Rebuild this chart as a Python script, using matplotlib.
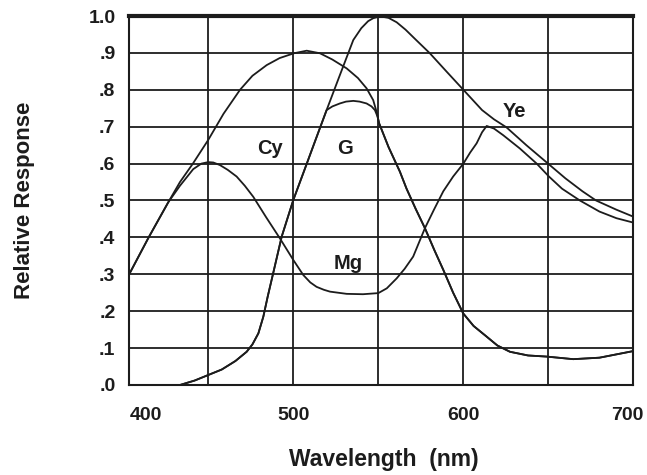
import numpy as np
import matplotlib.pyplot as plt
from matplotlib.transforms import ScaledTranslation

# %% data (wavelength in nm, relative response)
cy_nm = [404, 415, 426.5, 433.4, 441, 450, 459, 468.7, 476, 484.4, 492, 500.4, 507.9, 515.7,
         523, 531.4, 538, 543.1, 547, 549, 550.5, 556, 562.7, 566.6, 572, 577.4, 583, 588.2,
         594, 599.9, 606, 613.7, 620, 627.4, 638, 648.9, 664.6, 680, 700]
cy_resp = [0.304, 0.40, 0.495, 0.55, 0.60, 0.664, 0.735, 0.80, 0.838, 0.867, 0.886, 0.899,
           0.906, 0.899, 0.882, 0.858, 0.832, 0.804, 0.772, 0.74, 0.709, 0.645, 0.578, 0.532,
           0.477, 0.425, 0.365, 0.312, 0.25, 0.194, 0.16, 0.131, 0.107, 0.09, 0.08, 0.077,
           0.07, 0.074, 0.092]

g_nm = [433.4, 442, 450, 458, 466, 472.6, 476, 479.5, 482.4, 485, 488.2, 493.2, 500, 507,
        513, 519.6, 523, 527.4, 531, 535.3, 539, 543.1, 546, 548, 549.5, 550.5, 556, 562.7,
        566.6, 572, 577.4, 583, 588.2, 594, 599.9, 606, 613.7, 620, 627.4, 638, 648.9, 664.6,
        680, 700]
g_resp = [0.0, 0.012, 0.027, 0.042, 0.065, 0.09, 0.11, 0.14, 0.185, 0.24, 0.303, 0.402,
          0.501, 0.588, 0.663, 0.745, 0.755, 0.763, 0.768, 0.77, 0.768, 0.763, 0.755, 0.745,
          0.728, 0.709, 0.645, 0.578, 0.532, 0.477, 0.425, 0.365, 0.312, 0.25, 0.194, 0.16,
          0.131, 0.107, 0.09, 0.08, 0.077, 0.07, 0.074, 0.092]

ye_nm = [433.4, 442, 450, 458, 466, 472.6, 476, 479.5, 482.4, 485, 488.2, 493.2, 500, 507,
         513, 519.6, 527, 535.3, 540, 544, 547, 551, 556, 560.8, 566, 572, 580.3, 590, 600,
         606, 611, 618, 625.4, 637, 650.3, 660, 670, 678, 690, 700]
ye_resp = [0.0, 0.012, 0.027, 0.042, 0.065, 0.09, 0.11, 0.14, 0.185, 0.24, 0.303, 0.402,
           0.501, 0.588, 0.663, 0.745, 0.835, 0.935, 0.967, 0.986, 0.994, 0.999, 0.995, 0.983,
           0.963, 0.936, 0.899, 0.85, 0.80, 0.77, 0.745, 0.72, 0.698, 0.65, 0.598, 0.56,
           0.525, 0.50, 0.475, 0.456]

mg_nm = [404, 415, 426.5, 433.4, 441.2, 446, 450, 453, 456.9, 461.5, 466.7, 471.5, 476.5,
         484, 492.2, 500, 505.9, 510, 513.7, 518, 521.6, 531.4, 541, 550, 555, 560.8, 565.5,
         570.5, 577.4, 582.7, 588.2, 594, 600, 604, 607.8, 611, 613.7, 618, 623.4, 633.2,
         643.1, 650.3, 658, 668.5, 680, 690, 700]
mg_resp = [0.304, 0.40, 0.495, 0.54, 0.585, 0.60, 0.604, 0.603, 0.596, 0.583, 0.565, 0.54,
           0.51, 0.455, 0.397, 0.339, 0.298, 0.278, 0.266, 0.258, 0.253, 0.247, 0.246, 0.249,
           0.262, 0.289, 0.315, 0.348, 0.425, 0.475, 0.525, 0.565, 0.60, 0.63, 0.655, 0.685,
           0.702, 0.695, 0.677, 0.641, 0.60, 0.565, 0.532, 0.50, 0.47, 0.452, 0.44]

curve_labels = ['Cy', 'G', 'Ye', 'Mg']
label_nm = [486.4, 530.7, 630, 532]
label_resp = [0.642, 0.642, 0.74, 0.328]

x_tick_pos = [403.6, 500, 600, 700]
x_tick_text = ['400', '500', '600', '700']
y_tick_pos = np.arange(0, 1.01, 0.1)
y_tick_text = ['.0', '.1', '.2', '.3', '.4', '.5', '.6', '.7', '.8', '.9', '1.0']

# %% plot
plt.rcParams['font.family'] = ['Liberation Sans', 'DejaVu Sans']
plt.rcParams['font.weight'] = 'bold'
ink = '#1c1c1c'

fig = plt.figure(figsize=(6.47, 4.75), dpi=100)
ax = fig.add_axes([0.1998, 0.1895, 0.7793, 0.7768])

for nm, resp in [(cy_nm, cy_resp), (g_nm, g_resp), (ye_nm, ye_resp), (mg_nm, mg_resp)]:
    ax.plot(nm, resp, color=ink, lw=1.3, solid_joinstyle='round', zorder=3)

for text, x, y in zip(curve_labels, label_nm, label_resp):
    ax.text(x, y, text, ha='center', va='center', fontsize=14.5, fontweight='bold', color=ink)

ax.set_xlim(403.6, 700)
ax.set_ylim(0, 1.0)
ax.set_xticks(x_tick_pos, x_tick_text)
ax.set_xticks([450, 550, 650], minor=True)
ax.set_yticks(y_tick_pos, y_tick_text)
ax.tick_params(axis='both', which='both', length=0, labelsize=14, colors=ink)
ax.tick_params(axis='x', pad=16)
ax.tick_params(axis='y', pad=10)

# first label sits inside the left edge, last one is pulled in a bit
xlabels = ax.xaxis.get_majorticklabels()
xlabels[0].set_horizontalalignment('left')
xlabels[-1].set_transform(xlabels[-1].get_transform() + ScaledTranslation(-0.06, 0, fig.dpi_scale_trans))

ax.grid(True, which='both', color=ink, lw=1.3)
ax.set_axisbelow(True)

for side in ['left', 'right', 'bottom']:
    ax.spines[side].set_linewidth(1.5)
    ax.spines[side].set_color(ink)
ax.spines['top'].set_linewidth(3)
ax.spines['top'].set_color(ink)

ax.set_xlabel('Wavelength  (nm)', fontsize=16.5, fontweight='bold', color=ink, va='center')
ax.xaxis.set_label_coords(0.505, -0.203)
ax.set_ylabel('Relative Response', fontsize=16, fontweight='bold', color=ink, va='center')
ax.yaxis.set_label_coords(-0.207, 0.5)

fig.savefig('out.png', dpi=100)
